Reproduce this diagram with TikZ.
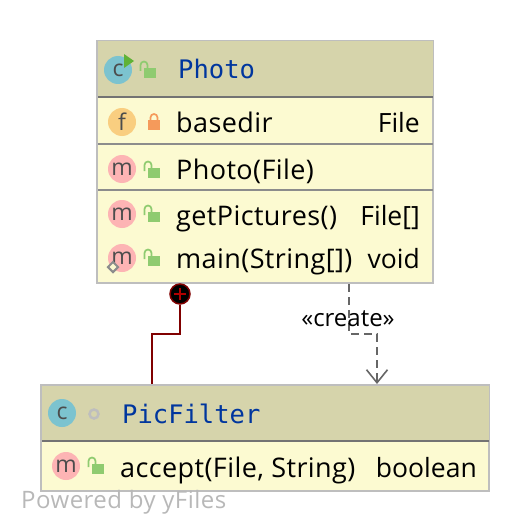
\documentclass[tikz,border=0pt]{standalone}
\usepackage{fontspec}
\setmainfont{Open Sans}
\setmonofont{DejaVu Sans Mono}
\usetikzlibrary{arrows.meta,shapes.geometric}
\definecolor{boxedge}{HTML}{BEBEBE}
\definecolor{headfill}{HTML}{D6D4AB}
\definecolor{bodyfill}{HTML}{FCFAD1}
\definecolor{classblue}{HTML}{7CC3CF}
\definecolor{fieldgold}{HTML}{F9CE80}
\definecolor{methodpink}{HTML}{FDB4B4}
\definecolor{lockgreen}{HTML}{8FCB70}
\definecolor{lockorange}{HTML}{F59A5B}
\definecolor{runarrow}{HTML}{5FB236}
\definecolor{titleblue}{HTML}{00369E}
\tikzstyle{classbox} = [rectangle, draw=boxedge, line width=1.6pt, fill=bodyfill, inner sep=0pt, outer sep=0pt, anchor=north west]
\tikzstyle{headbar} = [rectangle, fill=headfill, inner sep=0pt, outer sep=0pt, anchor=north west]
\tikzstyle{rowline} = [line width=1.5pt, draw=black!55]
\tikzstyle{icon} = [circle, minimum size=28pt, inner sep=0pt, text=black!70, font=\fontsize{23}{24}\selectfont]
\tikzstyle{member} = [anchor=base west, inner sep=0pt, font=\fontsize{27}{30}\selectfont\addfontfeatures{LetterSpace=1.5}]
\tikzstyle{mtype} = [anchor=base east, inner sep=0pt, font=\fontsize{26.5}{30}\selectfont]
\tikzstyle{title} = [anchor=base west, inner sep=0pt, text=titleblue, font=\fontsize{25.5}{30}\selectfont\ttfamily]
\tikzstyle{arrow} = [line width=1.7pt, draw=black!60, dash pattern=on 8pt off 5pt, -{Straight Barb[length=13pt,width=21pt,line width=1.6pt]}]
\tikzset{
  lockopen/.pic={
    \fill[lockgreen] (0,0) rectangle (12,10);
    \draw[lockgreen, line width=1.7pt] (-3.5,3) -- (-3.5,-3) arc[start angle=180, end angle=360, x radius=3.5, y radius=3.5] -- (3.5,0);
  },
  lockshut/.pic={
    \fill[lockorange] (0,0) rectangle (12,10);
    \draw[lockorange, line width=1.7pt] (2.5,0) -- (2.5,-2.5) arc[start angle=180, end angle=360, x radius=3.5, y radius=3.5] -- (9.5,0);
  }
}
\begin{document}
\begin{tikzpicture}[x=1pt, y=-1pt]
\useasboundingbox (0,0) rectangle (530,532);

% Photo class
\node (photo) [classbox, minimum width=336pt, minimum height=242pt] at (97,41) {};
\node (photohead) [headbar, minimum width=335pt, minimum height=55pt] at (97.5,41.5) {};
\draw [rowline] (98,97) -- (433,97);
\draw [rowline, draw=black!45] (98,144) -- (433,144);
\draw [rowline, draw=black!45] (98,190) -- (433,190);

\node (photoicon) [icon, fill=classblue] at (118,70) {c};
\fill [runarrow] (124,54) -- (134,61) -- (124,68) -- cycle;
\pic at (144,68) {lockopen};
\node (phototitle) [title] at (178,79) {Photo};

\node (baseicon) [icon, fill=fieldgold] at (122,122) {f};
\pic at (148,120) {lockshut};
\node (basedir) [member] at (176,132) {basedir};
\node (basetype) [mtype] at (420,132) {File};

\node (ctoricon) [icon, fill=methodpink] at (122,169) {m};
\pic at (148,168) {lockopen};
\node (ctor) [member] at (176,179) {Photo(File)};

\node (picsicon) [icon, fill=methodpink] at (122,214) {m};
\pic at (148,212) {lockopen};
\node (pics) [member] at (176,225) {getPictures()};
\node (picstype) [mtype] at (420,225) {File[]};

\node (mainicon) [icon, fill=methodpink] at (122,258) {m};
\node (staticmark) [diamond, draw=black!45, fill=bodyfill, line width=2pt, minimum size=11pt, inner sep=0pt] at (113,267) {};
\pic at (148,256) {lockopen};
\node (main) [member] at (176,268) {main(String[])};
\node (maintype) [mtype] at (420,268) {void};

% PicFilter class
\node (filter) [classbox, minimum width=448pt, minimum height=106pt] at (41,385) {};
\node (filterhead) [headbar, minimum width=447pt, minimum height=55pt] at (41.5,385.5) {};
\draw [rowline] (42,441) -- (489,441);

\node (filtericon) [icon, fill=classblue] at (62,413) {c};
\node (filterdot) [circle, draw=boxedge, line width=2.5pt, minimum size=9pt, inner sep=0pt] at (94,414) {};
\node (filtertitle) [title] at (122,423) {PicFilter};

\node (accepticon) [icon, fill=methodpink] at (66,466) {m};
\pic at (92,464) {lockopen};
\node (accept) [member] at (120,477) {accept(File, String)};
\node (accepttype) [mtype] at (477,477) {boolean};

% connectors
\node (inner) [circle, fill=black, draw=red!50!black, line width=1.5pt, minimum size=20pt, inner sep=0pt] at (180,294) {};
\draw [red!70!black, line width=1.3pt] (174,294) -- (186,294) (180,288) -- (180,300);
\coordinate (innerbend) at (152,334);
\coordinate (filtertop) at (152,384);
\draw [red!50!black, line width=1.5pt] (inner) |- (innerbend) -- (filtertop);

\coordinate (createstart) at (349,284);
\coordinate (createbend) at (377,334);
\coordinate (createend) at (377,384);
\draw [arrow] (createstart) |- (createbend) -- (createend);
\node (createlabel) [inner sep=0pt, anchor=base, font=\fontsize{24}{26}\selectfont] at (348,326) {«create»};

\node (poweredby) [anchor=base west, inner sep=0pt, text=black!28, font=\fontsize{24}{26}\selectfont\addfontfeatures{LetterSpace=2}] at (21,508) {Powered by yFiles};
\end{tikzpicture}
\end{document}
